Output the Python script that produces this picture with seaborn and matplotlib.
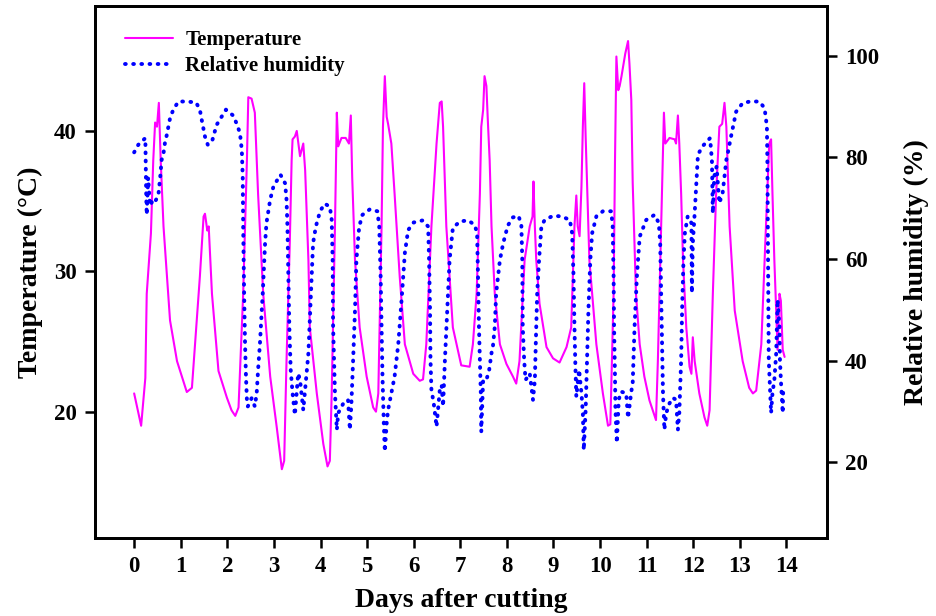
import numpy as np
import pandas as pd
import seaborn as sns
import matplotlib
matplotlib.use("Agg")
import matplotlib.pyplot as plt

# temperature record (days after cutting, deg C)
temp_days = [0.00, 0.15, 0.24, 0.27, 0.36, 0.41, 0.45, 0.49, 0.53, 0.57, 0.63, 0.77, 0.92,
             1.13, 1.24, 1.41, 1.49, 1.52, 1.57, 1.60, 1.67, 1.81, 1.99,
             2.09, 2.17, 2.24, 2.34, 2.42, 2.45, 2.52, 2.59, 2.66, 2.77, 2.92,
             3.06, 3.17, 3.22, 3.27, 3.34, 3.38, 3.40, 3.45, 3.49, 3.56, 3.63, 3.67, 3.70, 3.74, 3.77, 3.92,
             4.06, 4.15, 4.20, 4.24, 4.31, 4.35, 4.38, 4.45, 4.54, 4.61, 4.65, 4.68, 4.74, 4.84, 4.99,
             5.13, 5.19, 5.24, 5.31, 5.34, 5.38, 5.42, 5.45, 5.52, 5.59, 5.70, 5.81, 5.99,
             6.13, 6.20, 6.27, 6.38, 6.49, 6.56, 6.60, 6.63, 6.70, 6.84,
             7.02, 7.20, 7.27, 7.35, 7.42, 7.45, 7.49, 7.52, 7.56, 7.59, 7.63, 7.67, 7.74, 7.85, 7.99,
             8.13, 8.20, 8.27, 8.38, 8.49, 8.55, 8.57, 8.60, 8.63, 8.70, 8.85, 8.99,
             9.13, 9.28, 9.38, 9.45, 9.49, 9.52, 9.56, 9.60, 9.63, 9.66, 9.69, 9.77, 9.92,
             10.06, 10.17, 10.22, 10.29, 10.32, 10.35, 10.39, 10.42, 10.46, 10.54, 10.60, 10.63,
             10.67, 10.70, 10.77, 10.85, 10.95,
             11.06, 11.20, 11.24, 11.31, 11.37, 11.40, 11.49, 11.60, 11.63, 11.67, 11.70, 11.74,
             11.78, 11.85, 11.92, 11.96, 11.99,
             12.03, 12.13, 12.24, 12.30, 12.35, 12.42, 12.49, 12.56, 12.62, 12.67, 12.71, 12.78, 12.89,
             13.06, 13.20, 13.28, 13.35, 13.46, 13.56, 13.63, 13.67, 13.70, 13.74, 13.78, 13.81,
             13.85, 13.88, 13.92, 13.96]
temperature = [21.3, 19.0, 22.4, 28.4, 32.7, 37.9, 40.6, 40.3, 42.0, 37.9, 33.2, 26.5, 23.6,
               21.4, 21.7, 29.6, 33.9, 34.1, 32.9, 33.2, 28.4, 22.9, 21.0,
               20.1, 19.7, 20.3, 28.4, 37.9, 42.4, 42.3, 41.3, 35.5, 28.4, 22.5,
               18.9, 15.9, 16.5, 23.6, 32.0, 37.9, 39.4, 39.6, 40.0, 38.2, 39.1, 37.2, 34.4, 30.8, 26.0, 21.3,
               17.7, 16.1, 16.5, 21.3, 33.2, 41.3, 38.9, 39.5, 39.5, 39.1, 41.1, 36.7, 30.8, 26.0, 22.5,
               20.3, 20.0, 21.3, 33.2, 40.3, 43.9, 41.0, 40.5, 39.1, 35.5, 29.6, 24.8, 22.7,
               22.2, 22.3, 24.8, 33.2, 39.1, 42.0, 42.1, 40.3, 33.2, 26.0,
               23.3, 23.2, 24.8, 28.4, 35.5, 40.3, 41.5, 43.9, 43.2, 40.8, 37.9, 33.2, 28.4, 24.8, 23.4,
               22.5, 22.0, 23.6, 30.8, 33.2, 33.9, 36.4, 33.2, 30.8, 27.7, 24.6, 23.8,
               23.5, 24.6, 26.0, 33.2, 35.4, 33.2, 32.5, 36.0, 40.3, 43.4, 39.6, 30.8, 24.8,
               21.3, 19.0, 19.1, 28.4, 37.9, 45.3, 42.9, 43.2, 43.9, 45.5, 46.4, 44.8,
               42.2, 36.3, 28.4, 24.8, 22.5,
               20.8, 19.4, 23.6, 33.2, 41.3, 39.1, 39.5, 39.4, 39.1, 41.1, 39.1, 35.5,
               30.8, 26.0, 23.2, 22.7, 25.3,
               23.6, 21.3, 19.6, 19.0, 20.1, 28.4, 35.5, 40.3, 40.5, 42.0, 40.3, 33.2, 27.2,
               23.6, 21.7, 21.3, 21.5, 24.8, 33.2, 39.1, 39.4, 35.5, 30.8, 27.2, 24.4,
               28.4, 27.9, 24.4, 23.9]

# relative humidity record (days after cutting, %)
rh_days = [0.00, 0.09, 0.24, 0.26, 0.27, 0.30, 0.34, 0.41, 0.45, 0.52, 0.56, 0.59, 0.63, 0.66, 0.70,
           0.77, 0.84, 0.95, 1.13, 1.33, 1.41, 1.45, 1.52, 1.58, 1.67, 1.77, 1.97,
           2.13, 2.21, 2.27, 2.31, 2.33, 2.34, 2.36, 2.38, 2.40, 2.42, 2.44, 2.52, 2.59, 2.63, 2.66,
           2.70, 2.76, 2.81, 2.84, 2.92, 2.99,
           3.14, 3.24, 3.27, 3.29, 3.31, 3.33, 3.36, 3.40, 3.45, 3.52, 3.56, 3.59, 3.63, 3.67, 3.70,
           3.74, 3.77, 3.81, 3.84, 3.90, 3.99,
           4.09, 4.20, 4.24, 4.26, 4.27, 4.31, 4.35, 4.38, 4.49, 4.59, 4.63, 4.66, 4.70, 4.74, 4.77,
           4.83, 4.90,
           5.06, 5.22, 5.26, 5.29, 5.31, 5.33, 5.36, 5.38, 5.42, 5.45, 5.52, 5.59, 5.67, 5.74, 5.81, 5.88,
           6.00, 6.19, 6.31, 6.33, 6.35, 6.36, 6.38, 6.43, 6.49, 6.56, 6.60, 6.63, 6.67, 6.72, 6.77, 6.84,
           6.99, 7.17, 7.31, 7.36, 7.38, 7.40, 7.42, 7.44, 7.45, 7.49, 7.56, 7.62, 7.67, 7.70, 7.74,
           7.77, 7.81, 7.85, 7.92,
           8.02, 8.13, 8.25, 8.31, 8.33, 8.34, 8.37, 8.40, 8.49, 8.56, 8.60, 8.62, 8.65, 8.69, 8.74, 8.81, 8.99,
           9.17, 9.35, 9.40, 9.43, 9.45, 9.47, 9.49, 9.55, 9.60, 9.63, 9.65, 9.69, 9.72, 9.75, 9.79,
           9.83, 9.92,
           10.06, 10.24, 10.27, 10.29, 10.30, 10.32, 10.33, 10.36, 10.40, 10.45, 10.56, 10.60, 10.67,
           10.70, 10.74, 10.79, 10.85, 10.99,
           11.17, 11.26, 11.29, 11.31, 11.33, 11.35, 11.38, 11.42, 11.49, 11.56, 11.63, 11.67, 11.70,
           11.74, 11.76, 11.79, 11.82, 11.88, 11.96, 11.97, 11.99,
           12.03, 12.07, 12.10, 12.19, 12.36, 12.40, 12.42, 12.45, 12.50, 12.56, 12.63, 12.71, 12.74,
           12.81, 12.92,
           13.06, 13.22, 13.42, 13.53, 13.58, 13.59, 13.60, 13.61, 13.62, 13.65, 13.67, 13.70, 13.74,
           13.78, 13.80, 13.81, 13.85, 13.86, 13.88, 13.90, 13.92, 13.93]
humidity = [81.0, 82.5, 83.8, 72.0, 68.7, 76.0, 70.5, 71.7, 71.3, 72.6, 76.2, 79.5, 80.8, 82.8, 84.4,
            87.7, 89.4, 91.0, 91.0, 90.8, 89.4, 87.4, 84.1, 82.5, 83.1, 86.4, 89.4,
            88.2, 86.4, 84.8, 81.5, 76.2, 66.4, 53.3, 43.4, 36.9, 32.3, 31.0, 32.6, 31.0, 33.6, 38.2,
            43.4, 53.3, 63.1, 67.1, 71.7, 74.3,
            76.6, 74.9, 71.7, 66.4, 56.6, 46.7, 38.2, 33.6, 29.3, 37.5, 36.2, 33.6, 30.3, 34.3, 37.5,
            41.5, 48.0, 56.6, 63.1, 66.4, 69.4,
            70.9, 70.3, 67.7, 59.8, 46.7, 33.6, 26.4, 29.7, 31.6, 32.3, 26.4, 31.0, 40.2, 50.0, 59.8,
            66.4, 68.7,
            69.8, 69.4, 66.4, 56.6, 46.7, 36.9, 27.0, 22.1, 27.7, 30.3, 33.6, 36.9, 43.4, 52.0, 61.2, 65.7,
            67.2, 67.6, 66.4, 59.8, 50.0, 40.2, 34.3, 31.6, 27.0, 34.3, 35.2, 31.0, 40.2, 50.0, 59.8, 66.1,
            67.4, 67.6, 66.7, 65.1, 56.6, 46.7, 40.2, 33.6, 26.0, 36.2, 36.2, 38.2, 41.5, 42.8, 46.7,
            53.3, 56.6, 59.8, 63.1,
            66.6, 68.2, 68.5, 66.7, 59.8, 46.7, 40.2, 36.2, 37.5, 32.3, 36.2, 43.4, 53.3, 59.8, 66.4, 67.7, 68.5,
            68.4, 67.7, 65.1, 56.6, 46.7, 38.8, 32.9, 38.2, 33.6, 29.7, 22.4, 30.3, 40.2, 50.0, 59.8,
            65.1, 68.4,
            69.4, 69.4, 66.4, 56.6, 46.7, 36.9, 30.3, 23.8, 32.3, 33.9, 33.6, 28.7, 33.9,
            35.6, 46.7, 56.6, 64.4, 67.7,
            68.7, 67.1, 63.1, 53.3, 43.4, 33.6, 26.4, 29.7, 31.6, 32.7, 32.3, 26.4, 29.7,
            40.2, 50.0, 59.8, 65.1, 68.4, 67.1, 53.3, 63.1,
            69.0, 75.6, 80.5, 82.1, 83.8, 79.5, 69.0, 76.2, 78.2, 71.0, 73.0, 79.5, 80.8,
            84.1, 89.0,
            90.7, 91.0, 91.0, 89.7, 86.1, 79.5, 66.4, 53.3, 40.2, 33.6, 29.7, 33.6, 36.2,
            41.5, 48.0, 52.0, 46.7, 40.2, 36.2, 32.9, 29.7, 34.3]

day_ticks = list(range(0, 15))
temp_ticks = [20, 30, 40]
rh_ticks = [20, 40, 60, 80, 100]

sns.set_style("ticks")
plt.rcParams["font.family"] = ["Liberation Serif", "DejaVu Serif"]
plt.rcParams["font.weight"] = "bold"
for key in ("text.color", "axes.labelcolor", "xtick.color", "ytick.color"):
    plt.rcParams[key] = "black"

fig = plt.figure(figsize=(9.37, 6.16), dpi=100)
ax1 = fig.add_axes([0.1014, 0.1266, 0.7812, 0.8637])
ax2 = ax1.twinx()

sns.lineplot(x=temp_days, y=temperature, ax=ax1, color="#FF00FF", lw=1.5,
             sort=False, estimator=None, label="Temperature", legend=False)
sns.lineplot(x=rh_days, y=humidity, ax=ax2, color="#0000FF", lw=2.8,
             sort=False, estimator=None, label="Relative humidity", legend=False,
             linestyle=(0, (0.2, 1.9)), dash_capstyle="round")

ax1.set_xlim(-0.84, 14.87)
ax1.set_ylim(11.0, 48.9)
ax2.set_ylim(5.1, 109.8)
ax1.set_xticks(day_ticks)
ax1.set_yticks(temp_ticks)
ax2.set_yticks(rh_ticks)

for ax in (ax1, ax2):
    for sp in ax.spines.values():
        sp.set_visible(True)
        sp.set_linewidth(2.0)
        sp.set_color("black")
    ax.tick_params(length=7, width=1.8, labelsize=16.5, direction="out", pad=6,
                   colors="black")

ax1.set_xlabel("Days after cutting", fontsize=20, fontweight="bold", labelpad=8)
ax1.set_ylabel("Temperature (°C)", fontsize=20, fontweight="bold", labelpad=8)
ax2.set_ylabel("Relative humidity (%)", fontsize=20, fontweight="bold", labelpad=18)

h1, l1 = ax1.get_legend_handles_labels()
h2, l2 = ax2.get_legend_handles_labels()
ax2.legend(h1 + h2, l1 + l2, loc="upper left", bbox_to_anchor=(0.015, 0.99),
           frameon=False, handlelength=2.3, handletextpad=0.6, labelspacing=0.3,
           prop={"weight": "bold", "size": 15})

fig.savefig("out.png", dpi=100)
